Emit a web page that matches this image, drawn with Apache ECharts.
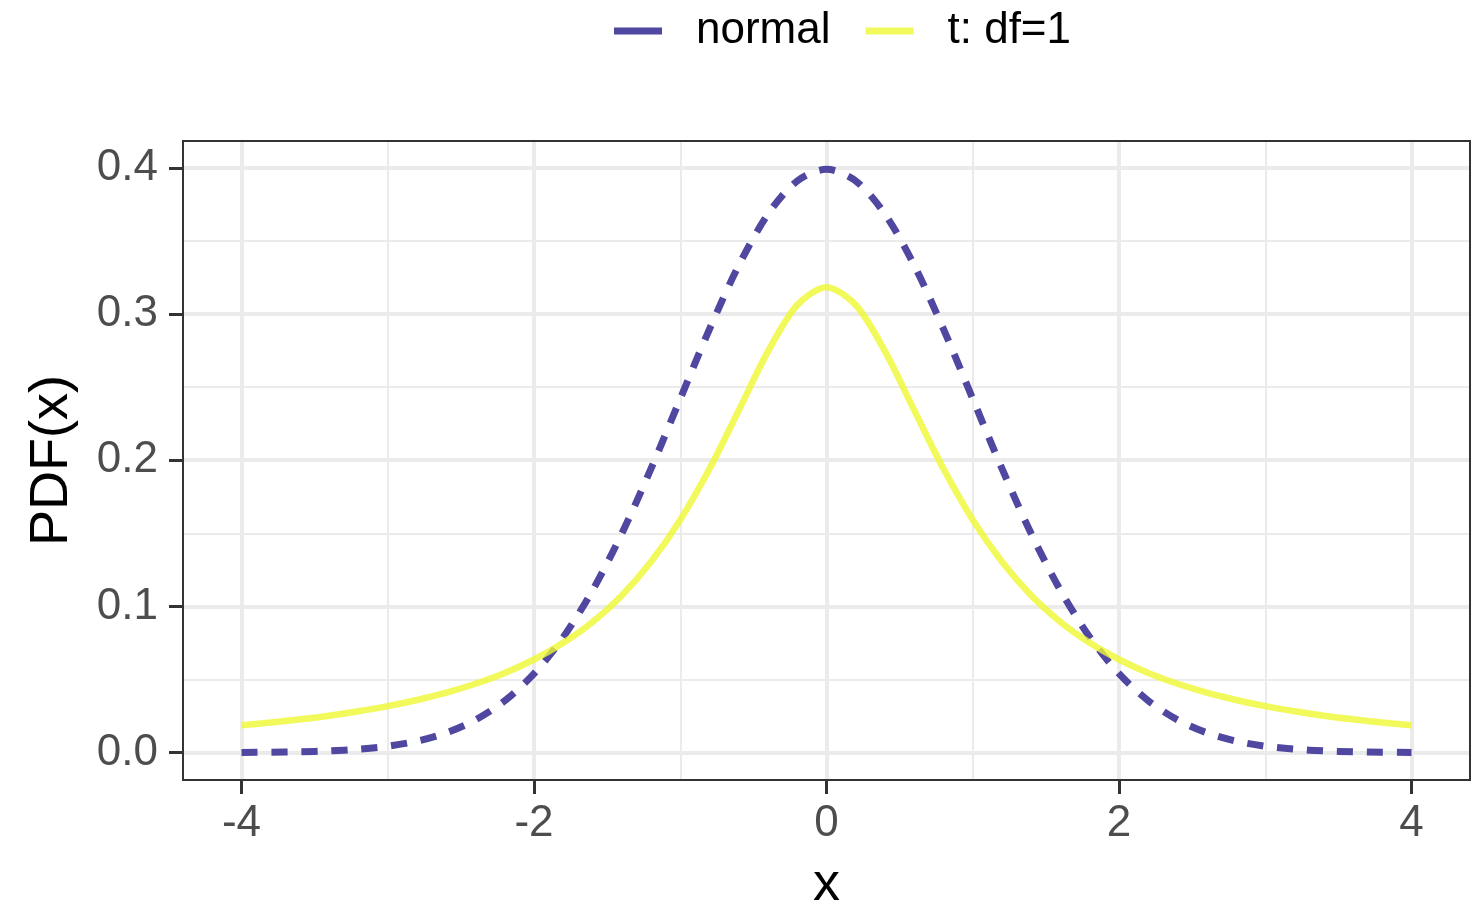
<!DOCTYPE html>
<html>
<head>
<meta charset="utf-8">
<script src="https://cdn.jsdelivr.net/npm/echarts@6/dist/echarts.min.js"></script>
<style>
html,body{margin:0;padding:0;background:#fff;}
#chart{width:1479px;height:905px;}
</style>
</head>
<body>
<div id="chart"></div>
<script>
const xValues = [-4.0,-3.8,-3.6,-3.4,-3.2,-3.0,-2.8,-2.6,-2.4,-2.2,-2.0,-1.8,-1.6,-1.4,-1.2,-1.0,-0.8,-0.6,-0.4,-0.2,0.0,0.2,0.4,0.6,0.8,1.0,1.2,1.4,1.6,1.8,2.0,2.2,2.4,2.6,2.8,3.0,3.2,3.4,3.6,3.8,4.0];
const normalPdf = [0.0001,0.0003,0.0006,0.0012,0.0024,0.0044,0.0079,0.0136,0.0224,0.0355,0.0540,0.0790,0.1109,0.1497,0.1942,0.2420,0.2897,0.3332,0.3683,0.3910,0.3989,0.3910,0.3683,0.3332,0.2897,0.2420,0.1942,0.1497,0.1109,0.0790,0.0540,0.0355,0.0224,0.0136,0.0079,0.0044,0.0024,0.0012,0.0006,0.0003,0.0001];
const tPdf = [0.0187,0.0206,0.0228,0.0253,0.0283,0.0318,0.0360,0.0410,0.0471,0.0545,0.0637,0.0751,0.0894,0.1075,0.1305,0.1592,0.1941,0.2341,0.2744,0.3061,0.3183,0.3061,0.2744,0.2341,0.1941,0.1592,0.1305,0.1075,0.0894,0.0751,0.0637,0.0545,0.0471,0.0410,0.0360,0.0318,0.0283,0.0253,0.0228,0.0206,0.0187];
const seriesNames = ['normal', 't: df=1'];
const xMajorTicks = [-4, -2, 0, 2, 4];
const xMinorTicks = [-3, -1, 1, 3];
const yMajorTicks = [0, 0.1, 0.2, 0.3, 0.4];
const yMinorTicks = [0.05, 0.15, 0.25, 0.35];
const xTitle = 'x';
const yTitle = 'PDF(x)';

const FONT = 'Liberation Sans, Arial, sans-serif';
const xMin = -4.4, xMax = 4.4, yMin = -0.0187, yMax = 0.4183;
const BLUE = '#4F47A0';
const YELLOW = 'rgba(238,248,50,0.8)';

const chart = echarts.init(document.getElementById('chart'), null, {renderer: 'canvas'});
const option = {
  backgroundColor: '#ffffff',
  animation: false,
  legend: {
    left: 609, top: 4,
    icon: 'rect',
    itemWidth: 48, itemHeight: 7, itemGap: 35,
    textStyle: {fontFamily: FONT, fontSize: 44, color: '#000', padding: [0,0,0,29]},
    data: [
      {name: seriesNames[0], itemStyle: {color: BLUE}},
      {name: seriesNames[1], itemStyle: {color: YELLOW}}
    ]
  },
  grid: {left: 183, right: 9, top: 141, bottom: 125, show: true, borderColor: '#333333', borderWidth: 2, z: 10, outerBoundsMode: 'none', containLabel: false},
  xAxis: [
    {
      type: 'value', min: xMin, max: xMax, position: 'bottom',
      axisLine: {show: false, onZero: false},
      axisTick: {show: true, customValues: xMajorTicks, length: 14, lineStyle: {color: '#333', width: 3}},
      axisLabel: {customValues: xMajorTicks, margin: 22, fontFamily: FONT, fontSize: 44, color: '#4D4D4D', formatter: v => String(v)},
      splitLine: {show: true, lineStyle: {color: '#EBEBEB', width: 4}},
      name: xTitle, nameLocation: 'middle', nameGap: 78,
      nameTextStyle: {fontFamily: FONT, fontSize: 54, color: '#000'}
    },
    {
      type: 'value', min: xMin, max: xMax, position: 'bottom',
      axisLine: {show: false, onZero: false},
      axisTick: {show: false, customValues: xMinorTicks},
      axisLabel: {show: false, customValues: xMinorTicks},
      splitLine: {show: true, lineStyle: {color: '#EBEBEB', width: 2}}
    }
  ],
  yAxis: [
    {
      type: 'value', min: yMin, max: yMax,
      axisLine: {show: false, onZero: false},
      axisTick: {show: true, customValues: yMajorTicks, length: 14, lineStyle: {color: '#333', width: 3}},
      axisLabel: {customValues: yMajorTicks, margin: 25, fontFamily: FONT, fontSize: 44, color: '#4D4D4D', formatter: v => v.toFixed(1)},
      splitLine: {show: true, lineStyle: {color: '#EBEBEB', width: 4}},
      name: yTitle, nameLocation: 'middle', nameGap: 104,
      nameTextStyle: {fontFamily: FONT, fontSize: 54, color: '#000'}
    },
    {
      type: 'value', min: yMin, max: yMax,
      axisLine: {show: false, onZero: false},
      axisTick: {show: false, customValues: yMinorTicks},
      axisLabel: {show: false, customValues: yMinorTicks},
      splitLine: {show: true, lineStyle: {color: '#EBEBEB', width: 2}}
    }
  ],
  series: [
    {
      name: seriesNames[0], type: 'line', xAxisIndex: 0, yAxisIndex: 0,
      data: xValues.map((x, i) => [x, normalPdf[i]]),
      showSymbol: false, symbol: 'none', smooth: 0.3,
      lineStyle: {color: BLUE, width: 7, type: [16, 14], cap: 'butt'},
      itemStyle: {color: BLUE}, z: 3
    },
    {
      name: seriesNames[1], type: 'line', xAxisIndex: 0, yAxisIndex: 0,
      data: xValues.map((x, i) => [x, tPdf[i]]),
      showSymbol: false, symbol: 'none', smooth: 0.3,
      lineStyle: {color: YELLOW, width: 6.5},
      itemStyle: {color: YELLOW}, z: 4
    }
  ]
};
chart.setOption(option);
</script>
</body>
</html>
